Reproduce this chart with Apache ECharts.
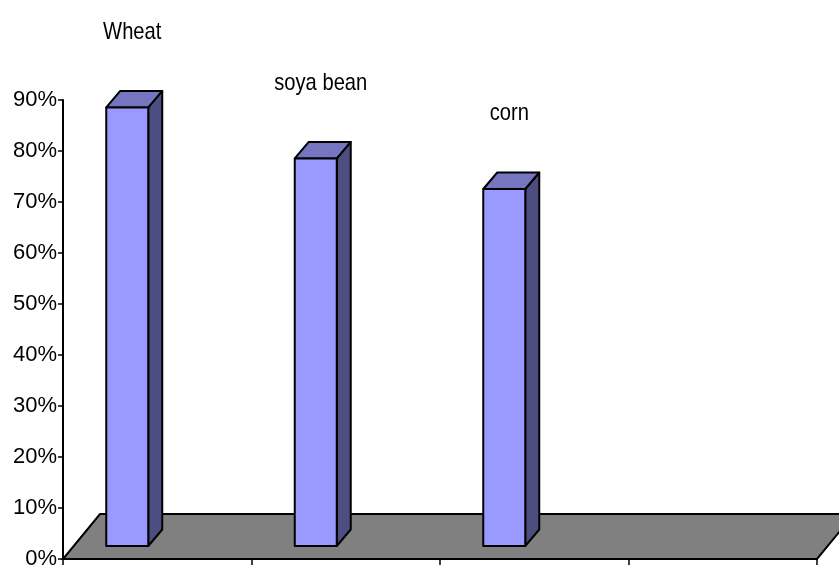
<!DOCTYPE html>
<html lang="en">
<head>
    <meta charset="UTF-8">
    <title>crops</title>
    <script src="https://cdn.jsdelivr.net/npm/echarts@6/dist/echarts.min.js"></script>
    <style>
        html, body { margin: 0; padding: 0; background: #fff; }
        #main { width: 839px; height: 570px; }
    </style>
</head>
<body>
<div id="main"></div>
<script>
    // 数据
    var categories = ['Wheat', 'soya bean', 'corn', ''];
    var values = [86, 76, 70];
    var yTicks = [0, 10, 20, 30, 40, 50, 60, 70, 80, 90];

    var DX = 14, DY = -16.5;   // 柱子的立体偏移
    var LIFT = 13;             // 柱子底部离地面前沿的高度

    var myChart = echarts.init(document.getElementById('main'));

    var option = {
        animation: false,
        grid: { left: 63, right: 22, top: 100, bottom: 6 },
        xAxis: {
            type: 'category',
            data: categories,
            boundaryGap: true,
            axisLine: { lineStyle: { color: '#000', width: 2 } },
            axisTick: { show: true, length: 6, inside: false, lineStyle: { color: '#000', width: 1.5 } },
            axisLabel: { show: false },
            splitLine: { show: false },
            z: 5
        },
        yAxis: {
            type: 'value',
            min: yTicks[0],
            max: yTicks[yTicks.length - 1],
            interval: 10,
            axisLine: { show: true, lineStyle: { color: '#000', width: 2 } },
            axisTick: { show: true, length: 5, lineStyle: { color: '#000', width: 1.5 } },
            axisLabel: {
                formatter: '{value}%',
                color: '#000',
                fontFamily: 'Liberation Sans, Arial, sans-serif',
                fontSize: 22,
                margin: 6
            },
            splitLine: { show: false }
        },
        series: [
            {
                // 地板
                type: 'custom',
                data: [[0]],
                z: 1,
                renderItem: function (params, api) {
                    var cs = params.coordSys;
                    var x0 = cs.x, x1 = cs.x + cs.width, yb = cs.y + cs.height;
                    return {
                        type: 'polygon',
                        shape: { points: [[x0, yb], [x1, yb], [x1 + 37, yb - 45], [x0 + 37, yb - 45]] },
                        style: { fill: '#808080', stroke: '#000', lineWidth: 2 }
                    };
                }
            },
            {
                type: 'custom',
                data: values.map(function (v, i) { return [i, v]; }),
                z: 3,
                renderItem: function (params, api) {
                    var i = api.value(0);
                    var top = api.coord([i, api.value(1)]);
                    var base = api.coord([i, 0]);
                    var c = top[0];
                    var x0 = c - 51, x1 = c - 9;
                    var yT = top[1] - LIFT, yB = base[1] - LIFT;
                    var line = { stroke: '#000', lineWidth: 2, lineJoin: 'round' };
                    return {
                        type: 'group',
                        children: [
                            {
                                type: 'polygon',
                                shape: { points: [[x1, yT], [x1 + DX, yT + DY], [x1 + DX, yB + DY], [x1, yB]] },
                                style: Object.assign({ fill: '#4d4d80' }, line)
                            },
                            {
                                type: 'polygon',
                                shape: { points: [[x0, yT], [x1, yT], [x1 + DX, yT + DY], [x0 + DX, yT + DY]] },
                                style: Object.assign({ fill: '#7575c0' }, line)
                            },
                            {
                                type: 'rect',
                                shape: { x: x0, y: yT, width: x1 - x0, height: yB - yT },
                                style: Object.assign({ fill: '#9999ff' }, line)
                            },
                            {
                                // 类别名，横向压窄一些
                                type: 'text',
                                x: (x0 + x1) / 2 + 5,
                                y: yT + DY - 59,
                                scaleX: 0.84,
                                style: {
                                    text: categories[i],
                                    x: 0,
                                    y: 0,
                                    align: 'center',
                                    verticalAlign: 'middle',
                                    fill: '#000',
                                    fontSize: 24,
                                    fontFamily: '"Liberation Sans", Arial, sans-serif'
                                }
                            }
                        ]
                    };
                }
            }
        ]
    };
    myChart.setOption(option);
</script>
</body>
</html>
